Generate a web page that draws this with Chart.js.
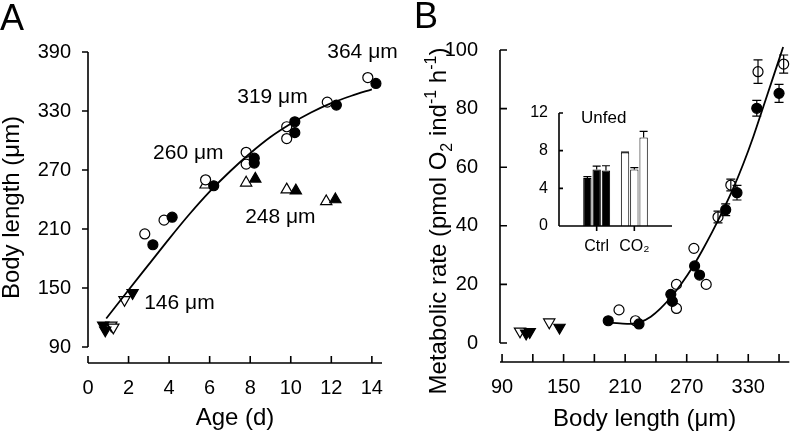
<!DOCTYPE html>
<html>
<head>
<meta charset="utf-8">
<script src="https://cdn.jsdelivr.net/npm/chart.js@4.4.1/dist/chart.umd.min.js"></script>
<style>
  html, body { margin: 0; padding: 0; background: #fff; }
  #wrap { position: relative; width: 797px; height: 436px; overflow: hidden; }
  canvas { position: absolute; }
</style>
</head>
<body>
<div id="wrap">
  <canvas id="chartA" width="400" height="436" style="left:0;top:0"></canvas>
  <canvas id="chartB" width="397" height="436" style="left:400px;top:0"></canvas>
  <canvas id="inset" width="220" height="170" style="left:480px;top:90px"></canvas>
</div>
<script>
// ---- Panel A : body length vs age ----
const ageOpenCircle   = [2.8, 3.75, 5.8, 7.8, 7.8, 9.8, 9.8, 11.8, 13.8];
const lenOpenCircle   = [205, 219, 260, 288, 276, 314, 302, 339, 364];
const ageFilledCircle = [3.2, 4.15, 6.2, 8.2, 8.2, 10.2, 10.2, 12.25, 14.2];
const lenFilledCircle = [194, 222, 254, 282, 277, 319, 308, 336, 358];
const ageOpenDown   = [1.15, 1.25, 1.8];
const lenOpenDown   = [112, 110, 138];
const ageFilledDown = [0.75, 0.85, 2.2];
const lenFilledDown = [112, 107, 145];
const ageOpenUp     = [5.8, 7.8, 9.8, 11.75];
const lenOpenUp     = [255, 257, 250, 238];
const ageFilledUp   = [8.25, 10.25, 12.2];
const lenFilledUp   = [261, 249, 240];
const ageFit = [0.9, 2, 3, 4, 5, 6, 7, 8, 9, 10, 11, 12, 13, 14];
const lenFit = [119, 148, 174, 200, 225, 248, 268.5, 287, 303.5, 317, 328.5, 338, 345.5, 352];
const ageTicks = [0, 2, 4, 6, 8, 10, 12, 14];
const lenTicks = [90, 150, 210, 270, 330, 390];
const sizeLabels   = ['364 μm', '319 μm', '260 μm', '248 μm', '146 μm'];
const sizeLabelAge = [11.8, 7.36, 3.21, 7.75, 2.77];
const sizeLabelLen = [390, 344, 287, 222, 135];

// ---- Panel B : metabolic rate vs body length ----
const blOpenCircle    = [204, 220, 260, 260, 277, 289, 300.5, 313, 339.5, 364.5];
const mrOpenCircle    = [11.3, 7.6, 11.8, 20.0, 32.3, 20.0, 43.0, 53.9, 92.6, 95.2];
const errOpenCircle   = [0, 0, 0, 0, 0, 0, 2, 2, 4, 3.1];
const blFilledCircle  = [193.5, 223.5, 254.5, 256, 277.7, 282.5, 308, 319, 338.3, 360];
const mrFilledCircle  = [7.6, 6.5, 16.6, 14.2, 26.3, 23.2, 45.5, 51.3, 80.1, 85.2];
const errFilledCircle = [0, 0, 0, 0, 0, 0, 2, 2.5, 2.7, 3.1];
const blOpenDown   = [107.5, 136];
const mrOpenDown   = [4.0, 7.1];
const blFilledDown = [113.5, 117, 146];
const mrFilledDown = [3.3, 3.8, 5.3];
const blFit = [194, 205, 215, 225, 235, 245, 255, 265, 275, 285, 295, 305, 315, 325, 335, 345, 355, 364];
const mrFit = [7, 6.7, 6.5, 7.2, 9, 12, 15.8, 20.3, 25.5, 31.5, 38, 45, 52.5, 61, 70.5, 81, 91.5, 101];
const blTickLabels = [90, 150, 210, 270, 330];
const blTickMarks  = [90, 120, 150, 180, 210, 240, 270, 300, 330, 360];
const mrTicks = [0, 20, 40, 60, 80, 100];

// ---- Inset : unfed ----
const insetGroups = ['', 'Ctrl', 'CO₂', ''];
const ctrlRates = [5.1, 6.0, 5.9];
const ctrlErr   = [0.15, 0.35, 0.5];
const co2Rates  = [7.8, 6.0, 9.4];
const co2Err    = [0.05, 0.2, 0.65];
const insetTicks = [0, 4, 8, 12];

const FONT = '"Liberation Sans", Arial, sans-serif';
Chart.defaults.font.family = FONT;
Chart.defaults.color = '#000';

const pts = (xs, ys) => xs.map((x, i) => ({ x: x, y: ys[i] }));
const setTicks = list => s => { s.ticks = list.map(v => ({ value: v })); };

function marker(data, style, filled) {
  return {
    data: data,
    pointStyle: style === 'circle' ? 'circle' : 'triangle',
    pointRotation: style === 'down' ? 180 : 0,
    pointRadius: style === 'circle' ? 5 : 6.5,
    pointBackgroundColor: filled ? '#000' : '#fff',
    pointBorderColor: '#000',
    pointBorderWidth: 1.2,
    clip: false
  };
}
function fitLine(data) {
  return { data: data, showLine: true, pointRadius: 0, borderColor: '#000', borderWidth: 1.8,
           cubicInterpolationMode: 'monotone', clip: false };
}

// axis lines in the SigmaPlot style: y line limited to its tick range, x line at the bottom
function axesPlugin(o) {
  return {
    id: 'axes',
    afterDraw(chart) {
      const { ctx, chartArea: a } = chart;
      const xs = chart.scales.x, ys = chart.scales.y;
      ctx.save();
      ctx.strokeStyle = '#000';
      ctx.lineWidth = 1.6;
      ctx.beginPath();
      ctx.moveTo(a.left, ys.getPixelForValue(o.yFrom));
      ctx.lineTo(a.left, ys.getPixelForValue(o.yTo));
      o.yTicks.forEach(v => {
        const p = ys.getPixelForValue(v);
        ctx.moveTo(a.left, p); ctx.lineTo(a.left + o.yLen, p);
      });
      ctx.moveTo(a.left, a.bottom); ctx.lineTo(a.right, a.bottom);
      o.xTicks.forEach(v => {
        const p = xs.getPixelForValue(v);
        ctx.moveTo(p, a.bottom); ctx.lineTo(p, a.bottom + o.xLen);
      });
      ctx.stroke();
      ctx.restore();
    }
  };
}

function errPlugin(sets, cap, upOnly) {
  return {
    id: 'errbars',
    afterDatasetsDraw(chart) {
      const ctx = chart.ctx, ys = chart.scales.y;
      ctx.save();
      ctx.strokeStyle = '#000';
      ctx.lineWidth = 1.2;
      ctx.beginPath();
      sets.forEach(s => {
        const meta = chart.getDatasetMeta(s.dataset);
        s.err.forEach((e, i) => {
          if (!e) return;
          const el = meta.data[i];
          const v = ys.getValueForPixel(el.y);
          const top = ys.getPixelForValue(v + e);
          const bot = upOnly ? el.y : ys.getPixelForValue(v - e);
          ctx.moveTo(el.x, bot); ctx.lineTo(el.x, top);
          ctx.moveTo(el.x - cap, top); ctx.lineTo(el.x + cap, top);
          if (!upOnly) { ctx.moveTo(el.x - cap, bot); ctx.lineTo(el.x + cap, bot); }
        });
      });
      ctx.stroke();
      ctx.restore();
    }
  };
}

function notesPlugin(items) {
  return {
    id: 'notes',
    afterDraw(chart) {
      const ctx = chart.ctx;
      items.forEach(n => {
        let x = n.x, y = n.y;
        if (n.data) { x = chart.scales.x.getPixelForValue(n.x); y = chart.scales.y.getPixelForValue(n.y); }
        ctx.save();
        ctx.font = n.size + 'px ' + FONT;
        ctx.fillStyle = '#000';
        ctx.textAlign = 'left';
        ctx.textBaseline = n.base || 'middle';
        ctx.fillText(n.text, x, y);
        ctx.restore();
      });
    }
  };
}

// rotated axis title with sub/superscripts
function richTitlePlugin(segs, cx, cy, size) {
  return {
    id: 'richTitle',
    afterDraw(chart) {
      const ctx = chart.ctx;
      const big = size + 'px ' + FONT, small = Math.round(size * 0.65) + 'px ' + FONT;
      ctx.save();
      ctx.translate(cx, cy);
      ctx.rotate(-Math.PI / 2);
      ctx.fillStyle = '#000';
      ctx.textBaseline = 'alphabetic';
      let total = 0;
      segs.forEach(s => { ctx.font = s.shift ? small : big; total += ctx.measureText(s.text).width; });
      let x = -total / 2;
      segs.forEach(s => {
        ctx.font = s.shift ? small : big;
        ctx.fillText(s.text, x, size * 0.36 + (s.shift || 0) * size);
        x += ctx.measureText(s.text).width;
      });
      ctx.restore();
    }
  };
}

const noGrid = { display: false, drawTicks: false };
const noBorder = { display: false };

// ---------------- Panel A ----------------
new Chart(document.getElementById('chartA'), {
  type: 'scatter',
  data: {
    datasets: [
      fitLine(pts(ageFit, lenFit)),
      marker(pts(ageFilledCircle, lenFilledCircle), 'circle', true),
      marker(pts(ageOpenCircle, lenOpenCircle), 'circle', false),
      marker(pts(ageFilledDown, lenFilledDown), 'down', true),
      marker(pts(ageOpenDown, lenOpenDown), 'down', false),
      marker(pts(ageFilledUp, lenFilledUp), 'up', true),
      marker(pts(ageOpenUp, lenOpenUp), 'up', false)
    ]
  },
  options: {
    responsive: false,
    animation: false,
    layout: { padding: { left: 0, right: 18, top: 52, bottom: 0 } },
    plugins: { legend: { display: false }, tooltip: { enabled: false } },
    scales: {
      x: {
        type: 'linear', min: 0, max: 14.5, bounds: 'data',
        grid: noGrid, border: noBorder,
        afterBuildTicks: setTicks(ageTicks),
        afterFit: s => { s.height = 73; },
        ticks: { font: { size: 20 }, padding: 13, autoSkip: false, maxRotation: 0 },
        title: { display: true, text: 'Age (d)', font: { size: 24, lineHeight: 1.1 }, padding: { top: 0, bottom: 4 } }
      },
      y: {
        type: 'linear', min: 73.73, max: 390, bounds: 'data',
        grid: noGrid, border: noBorder,
        afterBuildTicks: setTicks(lenTicks),
        afterFit: s => { s.width = 88; },
        ticks: { font: { size: 20 }, padding: 17, autoSkip: false },
        title: { display: true, text: 'Body length (μm)', font: { size: 24, lineHeight: 1.05 }, padding: { top: 0, bottom: 0 } }
      }
    }
  },
  plugins: [
    axesPlugin({ yFrom: 90, yTo: 390, yTicks: lenTicks, yLen: -6, xTicks: ageTicks, xLen: -7 }),
    notesPlugin(sizeLabels.map((t, i) => ({ text: t, x: sizeLabelAge[i], y: sizeLabelLen[i], data: true, size: 21 }))
      .concat([{ text: 'A', x: 0, y: 30, size: 36, base: 'alphabetic' }]))
  ]
});

// ---------------- Panel B ----------------
new Chart(document.getElementById('chartB'), {
  type: 'scatter',
  data: {
    datasets: [
      fitLine(pts(blFit, mrFit)),
      marker(pts(blFilledCircle, mrFilledCircle), 'circle', true),
      marker(pts(blOpenCircle, mrOpenCircle), 'circle', false),
      marker(pts(blFilledDown, mrFilledDown), 'down', true),
      marker(pts(blOpenDown, mrOpenDown), 'down', false)
    ]
  },
  options: {
    responsive: false,
    animation: false,
    layout: { padding: { left: 0, right: 2, top: 50, bottom: 0 } },
    plugins: { legend: { display: false }, tooltip: { enabled: false } },
    scales: {
      x: {
        type: 'linear', min: 88, max: 370, bounds: 'data',
        grid: noGrid, border: noBorder,
        afterBuildTicks: setTicks(blTickLabels),
        afterFit: s => { s.height = 74; },
        ticks: { font: { size: 20 }, padding: 13, autoSkip: false, maxRotation: 0 },
        title: { display: true, text: 'Body length (μm)', font: { size: 24, lineHeight: 1.1 }, padding: { top: 0, bottom: 3 } }
      },
      y: {
        type: 'linear', min: -6.48, max: 100, bounds: 'data',
        grid: noGrid, border: noBorder,
        afterBuildTicks: setTicks(mrTicks),
        afterFit: s => { s.width = 100; },
        ticks: { font: { size: 20 }, padding: 22, autoSkip: false }
      }
    }
  },
  plugins: [
    errPlugin([{ dataset: 1, err: errFilledCircle }, { dataset: 2, err: errOpenCircle }], 4.5, false),
    axesPlugin({ yFrom: 0, yTo: 100, yTicks: mrTicks, yLen: 7, xTicks: blTickMarks, xLen: -8 }),
    richTitlePlugin([
      { text: 'Metabolic rate (pmol O' }, { text: '2', shift: 0.25 },
      { text: ' ind' }, { text: '-1', shift: -0.42 },
      { text: ' h' }, { text: '-1', shift: -0.42 }, { text: ')' }
    ], 37, 221, 24),
    notesPlugin([{ text: 'B', x: 14, y: 28, size: 36, base: 'alphabetic' }])
  ]
});

// ---------------- Inset ----------------
const barColors = ['#000', '#000', '#fff', '#fff'];
new Chart(document.getElementById('inset'), {
  type: 'bar',
  data: {
    labels: insetGroups,
    datasets: ctrlRates.map((c, i) => ({
      data: [null, c, co2Rates[i], null],
      backgroundColor: barColors,
      borderColor: '#000',
      borderWidth: 1,
      categoryPercentage: 0.74,
      barPercentage: 0.9
    }))
  },
  options: {
    responsive: false,
    animation: false,
    layout: { padding: { left: 0, right: 28, top: 23, bottom: 0 } },
    plugins: { legend: { display: false }, tooltip: { enabled: false } },
    scales: {
      x: {
        type: 'category', offset: false,
        grid: { display: false, drawTicks: false, offset: false }, border: noBorder,
        afterFit: s => { s.height = 34; },
        ticks: { font: { size: 16 }, padding: 11, autoSkip: false, maxRotation: 0 }
      },
      y: {
        type: 'linear', min: 0, max: 12, bounds: 'data',
        grid: noGrid, border: noBorder,
        afterBuildTicks: setTicks(insetTicks),
        afterFit: s => { s.width = 79; },
        ticks: { font: { size: 16 }, padding: 11, autoSkip: false }
      }
    }
  },
  plugins: [
    errPlugin(ctrlRates.map((c, i) => ({ dataset: i, err: [0, ctrlErr[i], co2Err[i], 0] })), 4, true),
    axesPlugin({ yFrom: 0, yTo: 12, yTicks: insetTicks, yLen: 4, xTicks: [1, 2], xLen: 5 }),
    notesPlugin([{ text: 'Unfed', x: 101, y: 28, size: 17 }])
  ]
});
</script>
</body>
</html>
